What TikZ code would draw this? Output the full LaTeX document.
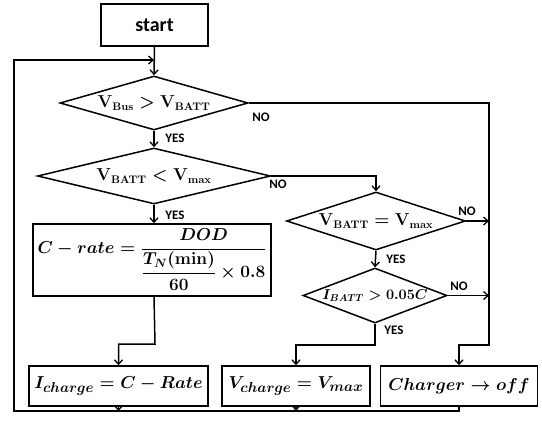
\documentclass[tikz,border=0pt]{standalone}
\usepackage{amsmath,bm}
\usepackage{fontspec}
\newfontfamily\lblfont{Carlito}
\usetikzlibrary{shapes.geometric,arrows.meta}
\begin{document}
\begin{tikzpicture}[x=1pt,y=-1pt,
  line width=1.5pt,
  arr/.style={-{Straight Barb[length=4.5pt,width=8pt,line width=1.3pt]}},
  box/.style={draw,rectangle,inner sep=0pt,font=\fontsize{19}{22}\selectfont\boldmath},
  dia/.style={draw,diamond,inner sep=0pt,font=\fontsize{16}{19}\selectfont\boldmath},
  lbl/.style={font=\lblfont\bfseries\fontsize{13}{15}\selectfont,inner sep=0pt}]
\useasboundingbox (0,0) rectangle (542,426);
\node[box,minimum width=107pt,minimum height=42pt,font=\lblfont\bfseries\fontsize{20}{24}\selectfont] (start) at (154.5,25) {start};
\node[dia,shape aspect=3.48,minimum width=188pt,minimum height=54pt] (d1) at (154,103) {$\mathbf{V}_{\mathbf{Bus}} > \mathbf{V}_{\mathbf{BATT}}$};
\node[dia,shape aspect=4.16,minimum width=233pt,minimum height=56pt] (d2) at (154,176) {$\mathbf{V}_{\mathbf{BATT}} < \mathbf{V}_{\mathbf{max}}$};
\node[dia,shape aspect=3.09,minimum width=179pt,minimum height=58pt] (d3) at (376,221) {$\mathbf{V}_{\mathbf{BATT}} = \mathbf{V}_{\mathbf{max}}$};
\node[dia,shape aspect=2.62,minimum width=144pt,minimum height=55pt,font=\fontsize{14.5}{17}\selectfont\boldmath] (d4) at (375,295.5) {$I_{BATT} > 0.05C$};
\node[box,minimum width=238pt,minimum height=72pt,font=\fontsize{18}{21}\selectfont\boldmath] (cr) at (152,260) {$C-rate=\dfrac{DOD}{\dfrac{T_N(\mathbf{min})}{\mathbf{60}}\times 0.8}$};
\node[box,minimum width=179pt,minimum height=40pt] (ic) at (118.5,386) {$I_{charge}=C-Rate$};
\node[box,minimum width=148pt,minimum height=40pt] (vc) at (296,386) {$V_{charge}=V_{max}$};
\node[box,minimum width=157pt,minimum height=40pt] (ch) at (459,386) {$Charger\rightarrow off$};
% labels
\node[lbl] (no1) at (261,117) {NO};
\node[lbl] (yes1) at (175,138) {YES};
\node[lbl] (no2) at (278,184) {NO};
\node[lbl] (yes2) at (175,215) {YES};
\node[lbl] (no3) at (467,211) {NO};
\node[lbl] (yes3) at (396,259) {YES};
\node[lbl] (no4) at (459,286) {NO};
\node[lbl] (yes4) at (394,330) {YES};
% coordinates
\coordinate (loopin) at (154,60);
\coordinate (rv) at (489,221);
\coordinate (rv2) at (489,295.5);
% connectors
\draw[arr] (start.south) -- (d1.north);
\draw[arr] (d1.south) -- (d2.north);
\draw[arr] (d2.south) -- (cr.north -| d2.south);
\draw[arr] (d2.east) -| (d3.north);
\draw[arr] (d3.south) -- (d4.north);
\draw[arr] (d3.east) -- (rv);
\draw[arr] (d4.east) -- (rv2);
\draw[arr] (d1.east) -- (489,103) -- (489,345) -| (ch.north);
\draw[arr] (cr.south -| d2.south) -- (155,344) -| (ic.north);
\draw[arr] (d4.south) -- (375,345) -| (vc.north);
\draw[arr] (ic.south) -- (ic.south |- 0,411);
\draw[arr] (vc.south) -- (vc.south |- 0,411);
\draw[arr] (ch.south) -- (459,411) -- (14,411) -- (14,60) -- (loopin);
\end{tikzpicture}
\end{document}
